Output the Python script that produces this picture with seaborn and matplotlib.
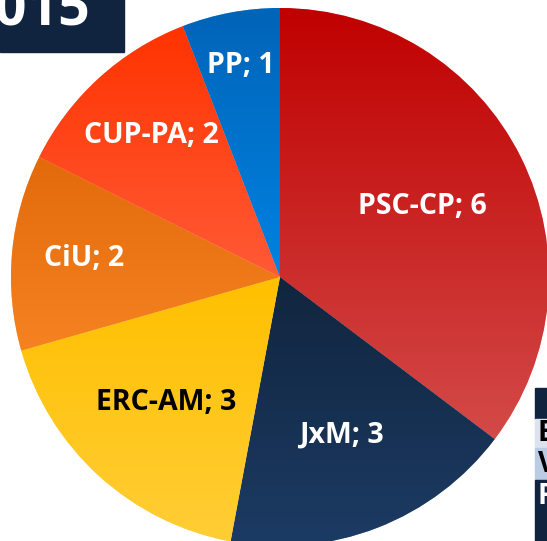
import numpy as np
import matplotlib
matplotlib.use('Agg')
import matplotlib.pyplot as plt
from matplotlib.colors import LinearSegmentedColormap
import seaborn as sns

# ── Data ──────────────────────────────────────────────────────────────────────
parties = ['PSC-CP', 'JxM', 'ERC-AM', 'CiU', 'CUP-PA', 'PP']
seats   = [6, 3, 3, 2, 2, 1]
year    = '2015'
table_rows = ['', 'E', 'V', 'F']

# ── Style ─────────────────────────────────────────────────────────────────────
sns.set_style('white')
plt.rcParams['font.family'] = ['Open Sans', 'DejaVu Sans']

NAVY = '#10233F'
# (top colour, bottom colour) per slice
GRADS = [('#C00000', '#D34A48'),
         ('#11253E', '#1C3B64'),
         ('#FFC000', '#FFCD35'),
         ('#E26A0A', '#F68222'),
         ('#FF3300', '#FF5A36'),
         ('#0064B8', '#0082E2')]
TEXT_COLORS = ['white', 'white', 'black', 'white', 'white', 'white']
LABEL_R = [0.59, 0.63, 0.63, 0.73, 0.71, 0.80]

W, H = 547, 541
CX, CY, R = 280, 264, 269

fig = plt.figure(figsize=(W / 100, H / 100), dpi=100)
fig.patch.set_facecolor('white')
ax = fig.add_axes([0, 0, 1, 1])

wedges, _ = ax.pie(seats, startangle=90, counterclock=False,
                   center=(CX, CY), radius=R,
                   colors=[g[1] for g in GRADS],
                   wedgeprops=dict(linewidth=0.6, edgecolor=(1, 1, 1, 0.5)))

grad = np.linspace(0, 1, 256).reshape(-1, 1)
for w, (top, bot) in zip(wedges, GRADS):
    ext = w.get_path().get_extents()
    cmap = LinearSegmentedColormap.from_list('g', [bot, top])
    im = ax.imshow(grad, extent=[ext.x0, ext.x1, ext.y0, ext.y1],
                   origin='lower', cmap=cmap, aspect='auto',
                   interpolation='bilinear', zorder=w.get_zorder() + 0.1)
    im.set_clip_path(w)

for w, name, val, tc, rf in zip(wedges, parties, seats, TEXT_COLORS, LABEL_R):
    mid = np.deg2rad((w.theta1 + w.theta2) / 2)
    ax.text(CX + rf * R * np.cos(mid), CY + rf * R * np.sin(mid),
            f'{name}; {val}', ha='center', va='center',
            fontsize=20.5, fontweight='bold', color=tc, zorder=5)

# ── Title box (partially off-canvas) ──────────────────────────────────────────
ax.add_patch(plt.Rectangle((0, H - 52), 124, 60, color=NAVY, zorder=6))
ax.text(91, H - 25, year, ha='right', va='baseline', fontsize=40,
        fontweight='bold', color='white', zorder=7)

# ── Table at bottom right (cut off by the edge) ───────────────────────────────
row_edges = [388, 419, 448, 480, 560]
row_fill  = [NAVY, '#DCE3EE', '#B9CCE4', NAVY]
row_text  = ['white', 'black', 'black', 'white']
for i, lab in enumerate(table_rows):
    top, bot = row_edges[i], row_edges[i + 1]
    ax.add_patch(plt.Rectangle((535, H - bot), 40, bot - top,
                               color=row_fill[i], zorder=6))
    if lab:
        ty = (top + bot) / 2 if i < 3 else top + 16
        ax.text(538, H - ty, lab, ha='left', va='center', fontsize=20,
                fontweight='bold', color=row_text[i], zorder=7)

ax.set_xlim(0, W)
ax.set_ylim(0, H)
ax.axis('off')

plt.savefig('out.png', dpi=100, facecolor=fig.get_facecolor())
